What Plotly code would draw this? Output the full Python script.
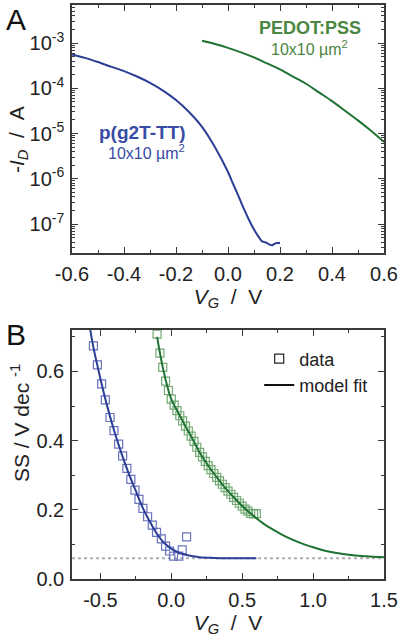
import plotly.graph_objects as go

# ---------------- Panel A : transfer curves ----------------
vg_p2_iv = [-0.60, -0.55, -0.50, -0.45, -0.40, -0.35, -0.30, -0.25, -0.20, -0.15, -0.10, -0.05,
            0.00, 0.02, 0.04, 0.06, 0.08, 0.10, 0.12, 0.13, 0.14, 0.15, 0.16, 0.17, 0.18, 0.19, 0.20]
id_p2 = [5.6e-4, 4.7e-4, 3.8e-4, 3.0e-4, 2.4e-4, 1.82e-4, 1.32e-4, 8.9e-5, 5.5e-5, 3.0e-5, 1.41e-5, 5.0e-6,
         1.41e-6, 7.6e-7, 4.2e-7, 2.24e-7, 1.26e-7, 7.6e-8, 5.0e-8, 4.2e-8, 4.0e-8, 3.8e-8, 3.5e-8, 3.4e-8,
         3.7e-8, 3.8e-8, 3.8e-8]

vg_pedot_iv = [-0.10, -0.05, 0.00, 0.05, 0.10, 0.15, 0.20, 0.25, 0.30, 0.35, 0.40, 0.45, 0.50, 0.55, 0.60]
id_pedot = [1.12e-3, 9.5e-4, 7.8e-4, 6.2e-4, 4.8e-4, 3.55e-4, 2.63e-4, 1.82e-4, 1.26e-4, 8.1e-5, 5.2e-5,
            3.2e-5, 1.95e-5, 1.15e-5, 6.5e-6]

ya_ticks = [1e-7, 1e-6, 1e-5, 1e-4, 1e-3]
ya_text = ["10<sup>-7</sup>", "10<sup>-6</sup>", "10<sup>-5</sup>", "10<sup>-4</sup>", "10<sup>-3</sup>"]
xa_ticks = [-0.6, -0.4, -0.2, 0.0, 0.2, 0.4, 0.6]
xa_text = ["-0.6", "-0.4", "-0.2", "0.0", "0.2", "0.4", "0.6"]

# ---------------- Panel B : subthreshold swing ----------------
vg_p2_data = [-0.549, -0.521, -0.491, -0.465, -0.432, -0.404, -0.371, -0.343, -0.313, -0.285, -0.256,
              -0.228, -0.200, -0.167, -0.134, -0.104, -0.070, -0.040, -0.012, 0.016, 0.053, 0.077, 0.108]
ss_p2_data = [0.674, 0.619, 0.564, 0.518, 0.467, 0.429, 0.390, 0.356, 0.320, 0.288, 0.257,
              0.230, 0.204, 0.180, 0.156, 0.135, 0.116, 0.095, 0.081, 0.066, 0.066, 0.084, 0.122]

vg_p2_fit = [-0.573, -0.55, -0.50, -0.45, -0.40, -0.35, -0.30, -0.25, -0.20, -0.15, -0.10, -0.05,
             0.00, 0.05, 0.10, 0.15, 0.20, 0.30, 0.40, 0.50, 0.60]
ss_p2_fit = [0.725, 0.672, 0.580, 0.497, 0.425, 0.362, 0.305, 0.255, 0.205, 0.165, 0.130, 0.104,
             0.088, 0.077, 0.070, 0.066, 0.063, 0.061, 0.060, 0.060, 0.060]

vg_pedot_data = [-0.10, -0.08, -0.06, -0.04, -0.02, 0.00, 0.02, 0.04, 0.06, 0.08, 0.10, 0.12, 0.14,
                 0.16, 0.18, 0.20, 0.22, 0.24, 0.26, 0.28, 0.30, 0.32, 0.34, 0.36, 0.38, 0.40, 0.42,
                 0.44, 0.46, 0.48, 0.50, 0.52, 0.54, 0.56, 0.58, 0.60]
ss_pedot_data = [0.708, 0.653, 0.612, 0.572, 0.545, 0.520, 0.503, 0.487, 0.472, 0.457, 0.442, 0.428,
                 0.413, 0.398, 0.381, 0.366, 0.353, 0.340, 0.328, 0.316, 0.305, 0.294, 0.284, 0.274,
                 0.264, 0.254, 0.245, 0.236, 0.227, 0.219, 0.211, 0.202, 0.196, 0.190, 0.188, 0.189]

vg_pedot_fit = [-0.10, -0.06, -0.02, 0.00, 0.05, 0.10, 0.15, 0.20, 0.25, 0.30, 0.35, 0.40, 0.45, 0.50,
                0.55, 0.60, 0.65, 0.70, 0.80, 0.90, 1.00, 1.10, 1.20, 1.30, 1.40, 1.50]
ss_pedot_fit = [0.700, 0.612, 0.545, 0.520, 0.480, 0.442, 0.405, 0.366, 0.334, 0.305, 0.279, 0.254,
                0.232, 0.211, 0.193, 0.176, 0.160, 0.147, 0.124, 0.106, 0.092, 0.080, 0.073, 0.068,
                0.065, 0.063]

ss_limit = 0.06
vg_limit = [-0.7, 1.5]

xb_ticks = [-0.5, 0.0, 0.5, 1.0, 1.5]
xb_text = ["-0.5", "0.0", "0.5", "1.0", "1.5"]
yb_ticks = [0.0, 0.2, 0.4, 0.6]
yb_text = ["0.0", "0.2", "0.4", "0.6"]

# ---------------- styling ----------------
BLUE = "rgb(43,62,150)"
BLUE_M = "rgb(105,115,190)"
BLUE_T = "rgb(55,75,165)"
GREEN = "rgb(30,115,50)"
GREEN_M = "rgb(115,170,115)"
GREEN_T = "rgb(75,135,65)"
FONT = "Liberation Sans, Arial, sans-serif"
AX = "#3a3a3a"

fig = go.Figure()

# Panel A traces
fig.add_trace(go.Scatter(x=vg_p2_iv, y=id_p2, mode="lines", line=dict(color=BLUE, width=2, shape="spline", smoothing=0.6),
                         xaxis="x", yaxis="y", showlegend=False))
fig.add_trace(go.Scatter(x=vg_pedot_iv, y=id_pedot, mode="lines", line=dict(color=GREEN, width=2, shape="spline"),
                         xaxis="x", yaxis="y", showlegend=False))

# Panel B traces
fig.add_trace(go.Scatter(x=vg_limit, y=[ss_limit, ss_limit], mode="lines",
                         line=dict(color="rgb(175,175,175)", width=1.8, dash="dot"),
                         xaxis="x2", yaxis="y2", showlegend=False))
fig.add_trace(go.Scatter(x=vg_p2_data, y=ss_p2_data, mode="markers",
                         marker=dict(symbol="square-open", size=8, color=BLUE_M, line=dict(width=1.2)),
                         xaxis="x2", yaxis="y2", showlegend=False))
fig.add_trace(go.Scatter(x=vg_pedot_data, y=ss_pedot_data, mode="markers",
                         marker=dict(symbol="square-open", size=8, color=GREEN_M, line=dict(width=1.2)),
                         xaxis="x2", yaxis="y2", showlegend=False))
fig.add_trace(go.Scatter(x=vg_p2_fit, y=ss_p2_fit, mode="lines", line=dict(color=BLUE, width=2, shape="spline"),
                         xaxis="x2", yaxis="y2", showlegend=False))
fig.add_trace(go.Scatter(x=vg_pedot_fit, y=ss_pedot_fit, mode="lines", line=dict(color=GREEN, width=2, shape="spline"),
                         xaxis="x2", yaxis="y2", showlegend=False))

# legend entries
fig.add_trace(go.Scatter(x=[None], y=[None], mode="markers", name="data",
                         marker=dict(symbol="square-open", size=9, color="#222", line=dict(width=1.2)),
                         xaxis="x2", yaxis="y2"))
fig.add_trace(go.Scatter(x=[None], y=[None], mode="lines", name="model fit",
                         line=dict(color="#111", width=2), xaxis="x2", yaxis="y2"))

tickfont = dict(family=FONT, size=20, color="#222")
common = dict(showline=True, linecolor=AX, linewidth=1.5, mirror="ticks", ticks="inside",
              ticklen=6, tickwidth=1.3, tickcolor=AX, showgrid=False, zeroline=False,
              tickfont=tickfont, ticklabelstandoff=2, automargin=False)

XTITLE = "<i>V</i><sub><i>G</i></sub>\u00a0\u00a0/\u00a0\u00a0V"

fig.update_layout(
    width=400, height=637,
    margin=dict(l=72, r=16, t=5, b=58),
    paper_bgcolor="white", plot_bgcolor="white",
    font=dict(family=FONT, color="#222"),
    xaxis=dict(domain=[0, 1], anchor="y", range=[-0.6, 0.6], tickmode="array", tickvals=xa_ticks,
               ticktext=xa_text,
               minor=dict(ticks="inside", ticklen=3, dtick=0.1, tick0=0, tickcolor=AX),
               title=dict(text=XTITLE, font=dict(family=FONT, size=21, color="#222"), standoff=0),
               **common),
    yaxis=dict(domain=[0.5679, 1.0], anchor="x", type="log", range=[-7.64, -2.16], tickmode="array",
               tickvals=ya_ticks, ticktext=ya_text,
               minor=dict(ticks="inside", ticklen=3, dtick="D1", tickcolor=AX),
               **common),
    xaxis2=dict(domain=[0, 1], anchor="y2", range=[-0.7, 1.5], tickmode="array", tickvals=xb_ticks,
                ticktext=xb_text,
                minor=dict(ticks="inside", ticklen=3, dtick=0.25, tick0=0, tickcolor=AX),
                title=dict(text=XTITLE, font=dict(family=FONT, size=21, color="#222"), standoff=2),
                **common),
    yaxis2=dict(domain=[0, 0.4338], anchor="x2", range=[0, 0.72], tickmode="array", tickvals=yb_ticks,
                ticktext=yb_text,
                minor=dict(ticks="inside", ticklen=3, dtick=0.1, tick0=0, tickcolor=AX),
                **common),
    legend=dict(x=0.60, y=0.4155, xanchor="left", yanchor="top", xref="paper", yref="paper",
                bgcolor="rgba(0,0,0,0)", font=dict(family=FONT, size=18, color="#222"),
                itemwidth=30, tracegroupgap=0),
)

# panel letters
fig.add_annotation(text="A", xref="paper", yref="paper", x=(4 - 72) / 312, y=1.0 + 4 / 574,
                   xanchor="left", yanchor="top", showarrow=False,
                   font=dict(family=FONT, size=30, color="#111"))
fig.add_annotation(text="B", xref="paper", yref="paper", x=(4 - 72) / 312, y=(579 - 316) / 574,
                   xanchor="left", yanchor="top", showarrow=False,
                   font=dict(family=FONT, size=30, color="#111"))

# y axis titles
fig.add_annotation(text="-<i>I</i><sub><i>D</i></sub>\u00a0\u00a0/\u00a0\u00a0A", xref="paper", yref="paper",
                   x=(18 - 72) / 312, y=(579 - 140) / 574, textangle=-90, showarrow=False,
                   xanchor="center", yanchor="middle",
                   font=dict(family=FONT, size=21, color="#222"))
fig.add_annotation(text="SS / V dec <sup>-1</sup>", xref="paper", yref="paper",
                   x=(20 - 72) / 312, y=(579 - 423) / 574, textangle=-90, showarrow=False,
                   xanchor="center", yanchor="middle",
                   font=dict(family=FONT, size=21, color="#222"))

# curve labels in panel A
fig.add_annotation(text="<b>PEDOT:PSS</b>", x=0.315, y=-2.675, xref="x", yref="y", showarrow=False,
                   font=dict(family=FONT, size=18, color=GREEN_T))
fig.add_annotation(text="10x10 µm<sup>2</sup>", x=0.315, y=-3.10, xref="x", yref="y", showarrow=False,
                   font=dict(family=FONT, size=16, color=GREEN_T))
fig.add_annotation(text="<b>p(g2T-TT)</b>", x=-0.327, y=-4.97, xref="x", yref="y", showarrow=False,
                   font=dict(family=FONT, size=19, color=BLUE_T))
fig.add_annotation(text="10x10 µm<sup>2</sup>", x=-0.312, y=-5.41, xref="x", yref="y", showarrow=False,
                   font=dict(family=FONT, size=16, color=BLUE_T))

fig.write_html("out.html", config={"displayModeBar": False},
               post_script="document.body.style.margin='0';")
